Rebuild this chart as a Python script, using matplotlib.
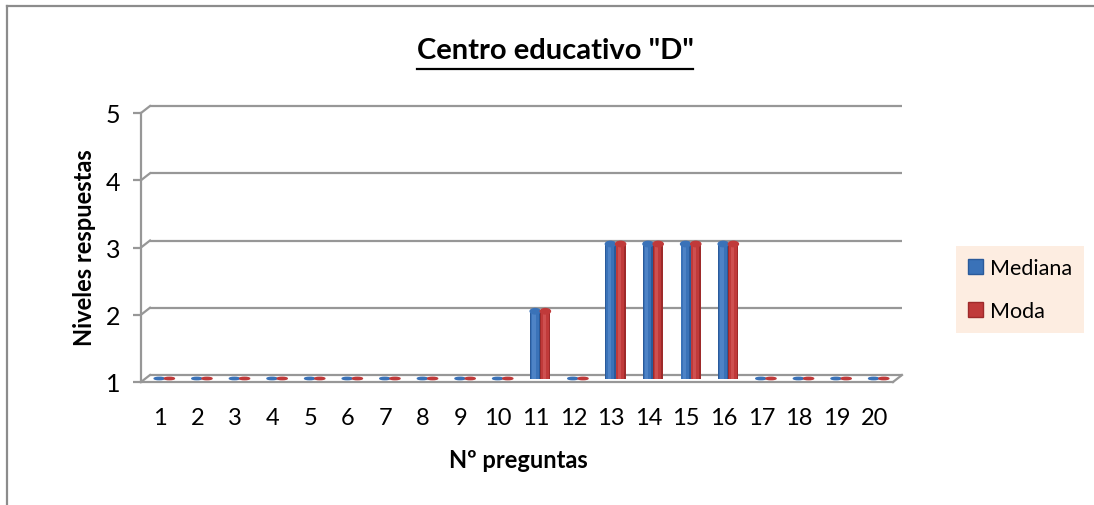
import matplotlib
matplotlib.use('Agg')
import matplotlib.pyplot as plt
from matplotlib.patches import Ellipse, Patch
from matplotlib.transforms import ScaledTranslation, IdentityTransform
from matplotlib.lines import Line2D

# ---- data ----
preguntas = [str(i) for i in range(1, 21)]
mediana = [1, 1, 1, 1, 1, 1, 1, 1, 1, 1, 2, 1, 3, 3, 3, 3, 1, 1, 1, 1]
moda = [1, 1, 1, 1, 1, 1, 1, 1, 1, 1, 2, 1, 3, 3, 3, 3, 1, 1, 1, 1]
series_names = ['Mediana', 'Moda']
yticks = [1, 2, 3, 4, 5]
title = 'Centro educativo "D"'
xlabel = 'Nº preguntas'
ylabel = 'Niveles respuestas'

plt.rcParams['font.family'] = ['Lato', 'DejaVu Sans']

W, H = 1094, 506
DPI = 100
fig = plt.figure(figsize=(W / DPI, H / DPI), dpi=DPI)
fig.patch.set_facecolor('white')

GRAY = '#979797'
GLW = 1.6

# outer chart border (top and left visible)
fig.add_artist(Line2D([7 / W, 7 / W], [0, 1 - 7 / H], color='#8c8c8c', lw=1.6))
fig.add_artist(Line2D([7 / W, 1], [1 - 7 / H, 1 - 7 / H], color='#8c8c8c', lw=1.6))

# front plane of plot
L, R, T, B = 141, 893, 114, 383
ax = fig.add_axes([L / W, 1 - B / H, (R - L) / W, (B - T) / H])
ax.set_xlim(0.5, 20.5)
ax.set_ylim(1, 5)
ax.patch.set_visible(False)
for s in ['top', 'right']:
    ax.spines[s].set_visible(False)
for s in ['left', 'bottom']:
    ax.spines[s].set_color(GRAY)
    ax.spines[s].set_linewidth(GLW)

DX, DY = 9, 7  # depth offset in pixels
back = ax.transData + ScaledTranslation(DX / DPI, DY / DPI, fig.dpi_scale_trans)
mid = ax.transData + ScaledTranslation(DX / 2 / DPI, DY / 2 / DPI, fig.dpi_scale_trans)

# back wall gridlines + connectors
for y in yticks:
    ax.plot([0.5, 20.5], [y, y], transform=back, color=GRAY, lw=GLW, clip_on=False,
            solid_capstyle='butt', zorder=1)
    p0 = ax.transData.transform((0.5, y))
    fig.add_artist(Line2D([p0[0], p0[0] + DX], [p0[1], p0[1] + DY],
                          transform=IdentityTransform(), color=GRAY, lw=GLW))
# right slant of floor
p1 = ax.transData.transform((20.5, 1))
fig.add_artist(Line2D([p1[0], p1[0] + DX], [p1[1], p1[1] + DY],
                      transform=IdentityTransform(), color=GRAY, lw=GLW))

# bars (cylinders)
x = list(range(1, 21))
bw = 0.27
styles = [
    dict(base='#2a5a9a', midc='#3a72b8', hi='#5d90d0'),
    dict(base='#9e2a2a', midc='#c03a3a', hi='#d86060'),
]
for k, (vals, st) in enumerate(zip([mediana, moda], styles)):
    off = (-0.5 + k) * bw
    xs = [xi + off for xi in x]
    hts = [v - 1 for v in vals]
    ax.bar(xs, hts, bottom=1, width=bw, color=st['base'], transform=mid, zorder=3,
           clip_on=False)
    ax.bar([xx - bw * 0.05 for xx in xs], hts, bottom=1, width=bw * 0.75, color=st['midc'],
           transform=mid, zorder=3, clip_on=False)
    ax.bar([xx - bw * 0.12 for xx in xs], hts, bottom=1, width=bw * 0.3, color=st['hi'],
           transform=mid, zorder=3, clip_on=False, alpha=0.6)
    for xx, v in zip(xs, vals):
        eh = 0.08 if v > 1 else 0.035
        ax.add_patch(Ellipse((xx, v), bw, eh, color=st['midc'], transform=mid,
                             zorder=4, clip_on=False))

ax.set_yticks(yticks)
ax.set_xticks(x, labels=preguntas)
ax.tick_params(axis='y', length=6, width=GLW, color=GRAY, labelsize=18, pad=9)
ax.tick_params(axis='x', length=0, labelsize=17, pad=18)

ax.set_xlabel(xlabel, fontsize=17, fontweight='bold')
ax.set_ylabel(ylabel, fontsize=17, fontweight='bold')
ax.xaxis.set_label_coords((518 - L) / (R - L), (B - 461) / (B - T))
ax.yaxis.set_label_coords((85 - L) / (R - L), (B - 248) / (B - T))
ax.xaxis.label.set_va('center')
ax.yaxis.label.set_va('center')

# title with underline
t = fig.text(555 / W, 1 - 51 / H, title, fontsize=21, fontweight='bold', ha='center',
             va='center')
fig.canvas.draw()
bb = t.get_window_extent()
uy = 1 - 70 / H
fig.add_artist(Line2D([bb.x0 / W, bb.x1 / W], [uy, uy], color='black', lw=1.6))

# legend
handles = [Patch(facecolor=styles[0]['midc'], edgecolor=styles[0]['base']),
           Patch(facecolor=styles[1]['midc'], edgecolor=styles[1]['base'])]
leg = fig.legend(handles, series_names, loc='center left',
                 bbox_to_anchor=(956 / W, 1 - 290.5 / H), fontsize=15.5, frameon=True,
                 fancybox=False, handlelength=0.7, handleheight=0.7, handletextpad=0.33,
                 labelspacing=1.05, borderpad=0.56, borderaxespad=0)
leg.get_frame().set_facecolor('#fde9da')
leg.get_frame().set_edgecolor('none')

fig.savefig('out.png', dpi=DPI)
